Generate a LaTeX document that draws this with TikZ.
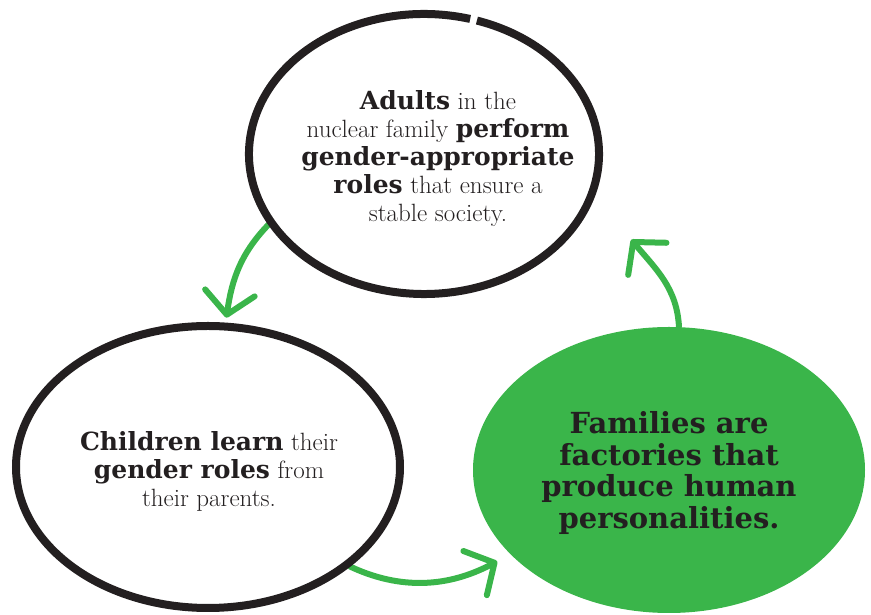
\documentclass[tikz,border=0pt]{standalone}
\usepackage{fontspec}
\newfontfamily\slabfont{DejaVu Serif}
\usetikzlibrary{arrows.meta,positioning,shapes.geometric,backgrounds}
\definecolor{leafgreen}{HTML}{3AB54A}
\definecolor{inkblack}{HTML}{231F20}
\newcommand{\hb}[1]{{\slabfont\bfseries #1}}

\begin{document}
\begin{tikzpicture}[
  x=1pt,y=1pt,
  rim/.style={draw=inkblack, line width=8pt},
  bubble/.style={ellipse, inner sep=0pt},
  blurb/.style={align=center, text=inkblack, inner sep=0pt,
                font=\fontsize{25}{28}\selectfont},
  flow/.style={draw=leafgreen, line width=6pt, line cap=round,
               -{Straight Barb[length=22pt,width=50pt,line width=6pt,round]}},
]
\useasboundingbox (0,0) rectangle (871,615);

% ---------------- bubbles ----------------
\node[bubble, minimum width=350, minimum height=280] (adults) at (424,461) {};
% hand drawn rim, open at the top
\draw[rim] (adults.center) ++(74.7:175 and 140)
  arc[start angle=74.7, end angle=432.4, x radius=175, y radius=140];

\node[bubble, rim, minimum width=384, minimum height=282] (children) at (208,148) {};

\node[bubble, fill=leafgreen, minimum width=392, minimum height=286] (families) at (669,145) {};

% ---------------- texts ----------------
\node[blurb] (adultstext) at ([xshift=14pt,yshift=-5pt]adults.center)
{\hb{Adults} in the\\
nuclear family \hb{perform}\\
\hb{gender-appropriate}\\
\hb{roles} that ensure a\\
stable society.};

\node[blurb] (childrentext) at ([xshift=1pt,yshift=-4pt]children.center)
{\hb{Children learn} their\\
\hb{gender roles} from\\
their parents.};

\node[blurb, font=\slabfont\bfseries\fontsize{29}{31.5}\selectfont] (familiestext)
  at ([yshift=-3pt]families.center)
{Families are\\
factories that\\
produce human\\
personalities.};

% ---------------- green arrows (under the rims) ----------------
\coordinate (backtip) at ([xshift=40pt,yshift=-44pt]adults.-14);

\begin{scope}[on background layer]
\draw[flow, shorten >=5pt] (adults.204) to[out=225, in=82] (children.83);
\draw[flow, shorten >=15pt] (children.-35) to[out=-25, in=208] (families.208);
\draw[flow] (families.86) to[out=93, in=-50] (backtip);
\end{scope}

\end{tikzpicture}
\end{document}
